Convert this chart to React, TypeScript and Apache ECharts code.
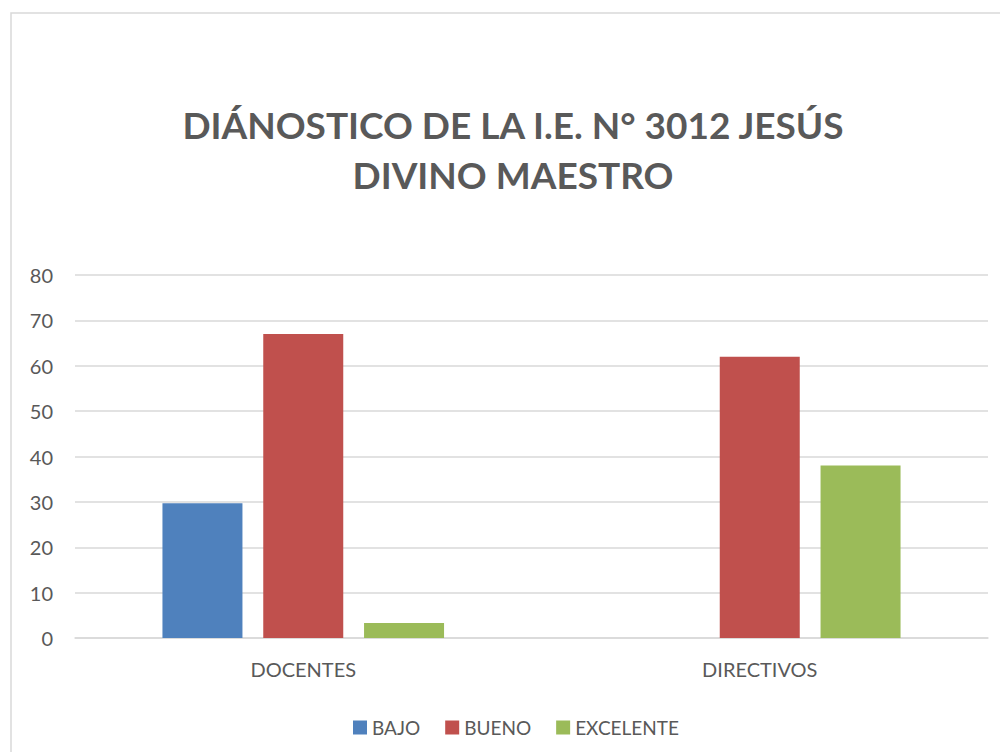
import React, { useEffect, useRef } from "react";
import * as echarts from "echarts";

const categories = ["DOCENTES", "DIRECTIVOS"];
const seriesNames = ["BAJO", "BUENO", "EXCELENTE"];
const bajo = [29.7, 0];
const bueno = [67, 62];
const excelente = [3.3, 38];
const colors = ["#4F81BD", "#C0504D", "#9BBB59"];
const titleLines = ["DIÁNOSTICO DE LA I.E. N° 3012 JESÚS", "DIVINO MAESTRO"];

export default function App() {
  const ref = useRef<HTMLDivElement>(null);
  useEffect(() => {
    if (!ref.current) return;
    const chart = echarts.init(ref.current, undefined, { renderer: "svg" });
    const font = "Lato";
    const values = [bajo, bueno, excelente];
    chart.setOption({
      animation: false,
      backgroundColor: "#ffffff",
      textStyle: { fontFamily: font },
      title: {
        text: titleLines.join("\n"),
        left: 508,
        top: 94,
        textAlign: "center",
        textStyle: {
          fontFamily: font,
          fontSize: 37,
          fontWeight: "bold",
          color: "#595959",
          lineHeight: 50,
        },
      },
      graphic: [
        {
          type: "rect",
          shape: { x: 11, y: 13, width: 1010, height: 800 },
          style: { fill: "none", stroke: "#d9d9d9", lineWidth: 1.5 },
          silent: true,
        },
      ],
      legend: {
        data: seriesNames,
        left: 348,
        top: 713,
        icon: "rect",
        itemWidth: 14,
        itemHeight: 14,
        itemGap: 25,
        textStyle: { fontFamily: font, fontSize: 19, color: "#595959" },
      },
      grid: { left: 75, right: 12, top: 275, bottom: 114 },
      xAxis: {
        type: "category",
        data: categories,
        axisLine: { show: true, lineStyle: { color: "#d9d9d9", width: 1.5 } },
        axisTick: { show: false },
        axisLabel: { fontFamily: font, fontSize: 20, color: "#595959", margin: 21 },
      },
      yAxis: {
        type: "value",
        min: 0,
        max: 80,
        interval: 10,
        axisLine: { show: false },
        axisTick: { show: false },
        splitLine: { lineStyle: { color: "#d9d9d9", width: 1.5 } },
        axisLabel: { fontFamily: font, fontSize: 20, color: "#595959", margin: 22 },
      },
      series: seriesNames.map((name, i) => ({
        name,
        type: "bar",
        data: values[i],
        barWidth: 80,
        barGap: "26%",
        itemStyle: { color: colors[i] },
      })),
    });
    return () => chart.dispose();
  }, []);
  return (
    <div
      ref={ref}
      style={{ position: "fixed", left: 0, top: 0, width: 1000, height: 752 }}
    />
  );
}
